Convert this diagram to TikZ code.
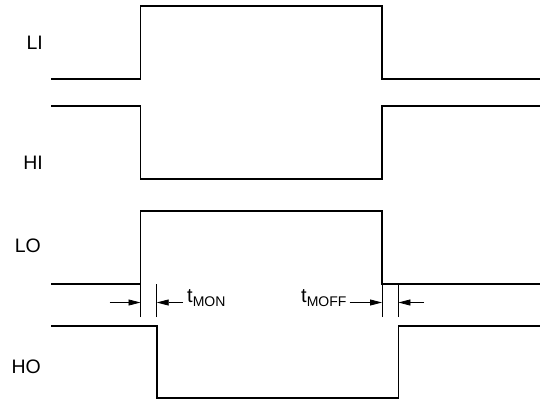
\documentclass[tikz,border=0pt]{standalone}
\usepackage{fontspec}
\setmainfont{Liberation Sans}
\usetikzlibrary{positioning}
\usetikzlibrary{arrows.meta}

\newcommand{\tsub}[1]{t\raisebox{-4pt}{\fontsize{14}{16}\selectfont #1}}

\begin{document}
\begin{tikzpicture}[x=1pt, y=-1pt,
                    wave/.style = { line width=1.6pt, line join=miter },
                    sig/.style = { anchor=east, inner sep=0pt, font=\fontsize{19.5}{22}\selectfont },
                    tickline/.style = { line width=0.8pt },
                    dim/.style = { line width=0.8pt, -{Triangle[length=12pt,width=6pt]} },
                    tlab/.style = { anchor=base west, inner sep=0pt, font=\fontsize{20}{22}\selectfont },
                   ]
    \useasboundingbox (0,0) rectangle (540,402);
    % signal names
    \node[sig] (LI) at (43,43) {LI};
    \node[sig] (HI) at (43,163) {HI};
    \node[sig] (LO) at (41,246) {LO};
    \node[sig] (HO) at (41,367) {HO};
    % waveforms
    \draw[wave] (51,79) -- (140.5,79) -- (140.5,6) -- (382,6) -- (382,79) -- (540,79);
    \draw[wave] (51,106) -- (140.5,106) -- (140.5,179) -- (382,179) -- (382,106) -- (540,106);
    \draw[wave] (51,284) -- (140.5,284) -- (140.5,211) -- (382,211) -- (382,284) -- (540,284);
    \draw[wave] (51,326) -- (156.7,326) -- (156.7,398) -- (398.4,398) -- (398.4,326) -- (540,326);
    % delay marks
    \coordinate (onA) at (140.5,302.5);
    \coordinate (onB) at (156.7,302.5);
    \coordinate (offA) at (382,302.5);
    \coordinate (offB) at (398.4,302.5);
    \foreach \c in {onA, onB, offA, offB}
        \draw[tickline] ([yshift=-14.5pt]\c) -- ([yshift=18.5pt]\c);
    \coordinate (onL) at (109.5,302.5);
    \coordinate (onR) at (183,302.5);
    \coordinate (offL) at (349.5,302.5);
    \coordinate (offR) at (424,302.5);
    \draw[dim] (onL) -- (onA);
    \draw[dim] (onR) -- (onB);
    \draw[dim] (offL) -- (offA);
    \draw[dim] (offR) -- (offB);
    \node[tlab] (tmon) at (187,302) {\tsub{MON}};
    \node[tlab] (tmoff) at (301,302) {\tsub{MOFF}};
\end{tikzpicture}
\end{document}
